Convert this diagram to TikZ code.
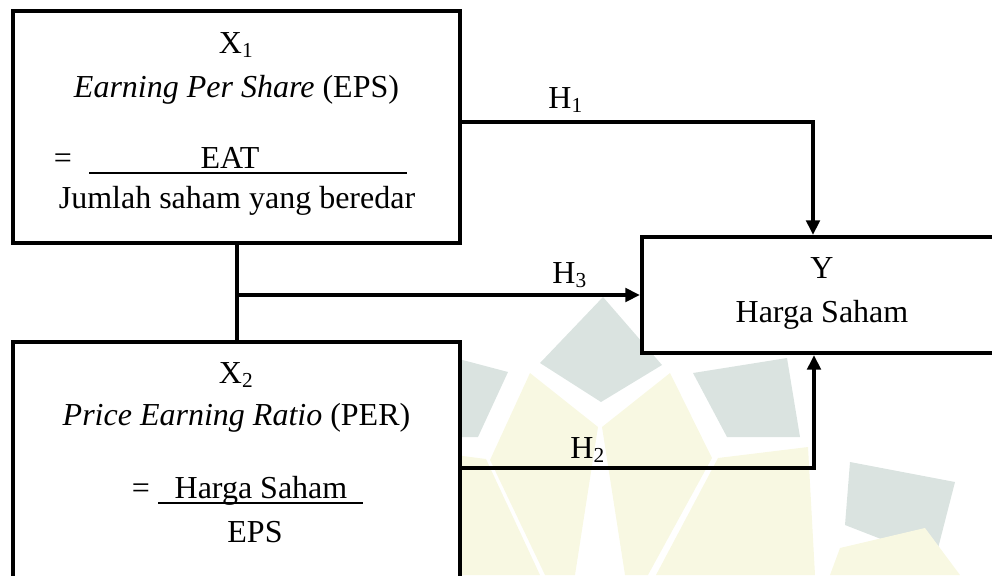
\documentclass[tikz,border=0pt]{standalone}
\usepackage{fontspec}
\setmainfont{Liberation Serif}
\usepackage{xcolor}
\usetikzlibrary{arrows.meta}
\usetikzlibrary{calc}

\definecolor{wmgrey}{RGB}{218,227,224}
\definecolor{wmyellow}{RGB}{248,248,226}

\begin{document}
\begin{tikzpicture}[x=0.375pt,y=-0.375pt,
        box/.style={draw,line width=1.5pt,fill=white,inner sep=0pt},
        link/.style={line width=1.5pt},
        arr/.style={link,-{Triangle[length=5.5pt,width=5pt]}},
        txt/.style={inner sep=0pt,anchor=base,font=\fontsize{12}{14}\selectfont}]
        \newcommand{\figtenboxw}{167.6pt}
        \newcommand{\figtenboxh}{87pt}
        \newcommand{\figtenleftx}{236.5}
        \newcommand{\figtenrightx}{822}
        \useasboundingbox (0,0) rectangle (992,575);
        \clip (0,0) rectangle (992,575);
        % watermark in the background
        \fill[wmgrey] (603,297) -- (662,365) -- (601,402) -- (540,363) -- cycle;
        \fill[wmgrey] (455,358) -- (508,372) -- (478,437) -- (455,437) -- cycle;
        \fill[wmgrey] (693,373) -- (787,358) -- (800,437) -- (727,437) -- cycle;
        \fill[wmgrey] (850,462) -- (955,482) -- (935,560) -- (845,525) -- cycle;
        \fill[wmyellow] (530,373) -- (598,427) -- (575,575) -- (545,575) -- (490,460) -- cycle;
        \fill[wmyellow] (670,373) -- (602,427) -- (625,575) -- (648,575) -- (712,458) -- cycle;
        \fill[wmyellow] (455,455) -- (486,459) -- (540,575) -- (455,575) -- cycle;
        \fill[wmyellow] (718,458) -- (808,447) -- (815,575) -- (656,575) -- cycle;
        \fill[wmyellow] (840,548) -- (925,528) -- (960,575) -- (830,575) -- cycle;
        % boxes
        \node[box,minimum width=\figtenboxw,minimum height=\figtenboxh] (xone) at (\figtenleftx,127) {};
        \node[box,minimum width=\figtenboxw,minimum height=96.75pt] (xtwo) at (\figtenleftx,471) {};
        \node[box,minimum width=135pt,minimum height=43.5pt] (y) at (\figtenrightx,295) {};
        % texts of X1
        \node[txt] (xonename) at (\figtenleftx,53) {X\textsubscript{1}};
        \node[txt] (xonetitle) at (\figtenleftx,97) {\textit{Earning Per Share} (EPS)};
        \node[txt] (xoneeq) at (63,168) {=};
        \node[txt] (xonenum) at (230,168) {EAT};
        \node[txt] (xoneden) at (237,208) {Jumlah saham yang beredar};
        \draw[line width=0.9pt] (89,173) -- (407,173);
        % texts of X2
        \node[txt] (xtwoname) at (\figtenleftx,383) {X\textsubscript{2}};
        \node[txt] (xtwotitle) at (\figtenleftx,425) {\textit{Price Earning Ratio} (PER)};
        \node[txt] (xtwoeq) at (141,498) {=};
        \node[txt] (xtwonum) at (261,498) {Harga Saham};
        \node[txt] (xtwoden) at (255,542) {EPS};
        \draw[line width=0.9pt] (158,503) -- (363,503);
        % texts of Y
        \node[txt] (yname) at (\figtenrightx,278) {Y};
        \node[txt] (ytitle) at (\figtenrightx,322) {Harga Saham};
        % connectors
        \coordinate (hone) at (813,122);
        \coordinate (htwo) at (814,468);
        \draw[arr] (xone.east |- hone) -- (hone) -- (y.north -| hone);
        \draw[link] (xone.south) -- (xtwo.north);
        \draw[arr] (xone.south |- y.west) -- (y.west);
        \draw[arr] (xtwo.east |- htwo) -- (htwo) -- (y.south -| htwo);
        \node[txt] (lhone) at (566,108) {H\textsubscript{1}};
        \node[txt] (lhthree) at (570,283) {H\textsubscript{3}};
        \node[txt] (lhtwo) at (588,458) {H\textsubscript{2}};
    \end{tikzpicture}
\end{document}
